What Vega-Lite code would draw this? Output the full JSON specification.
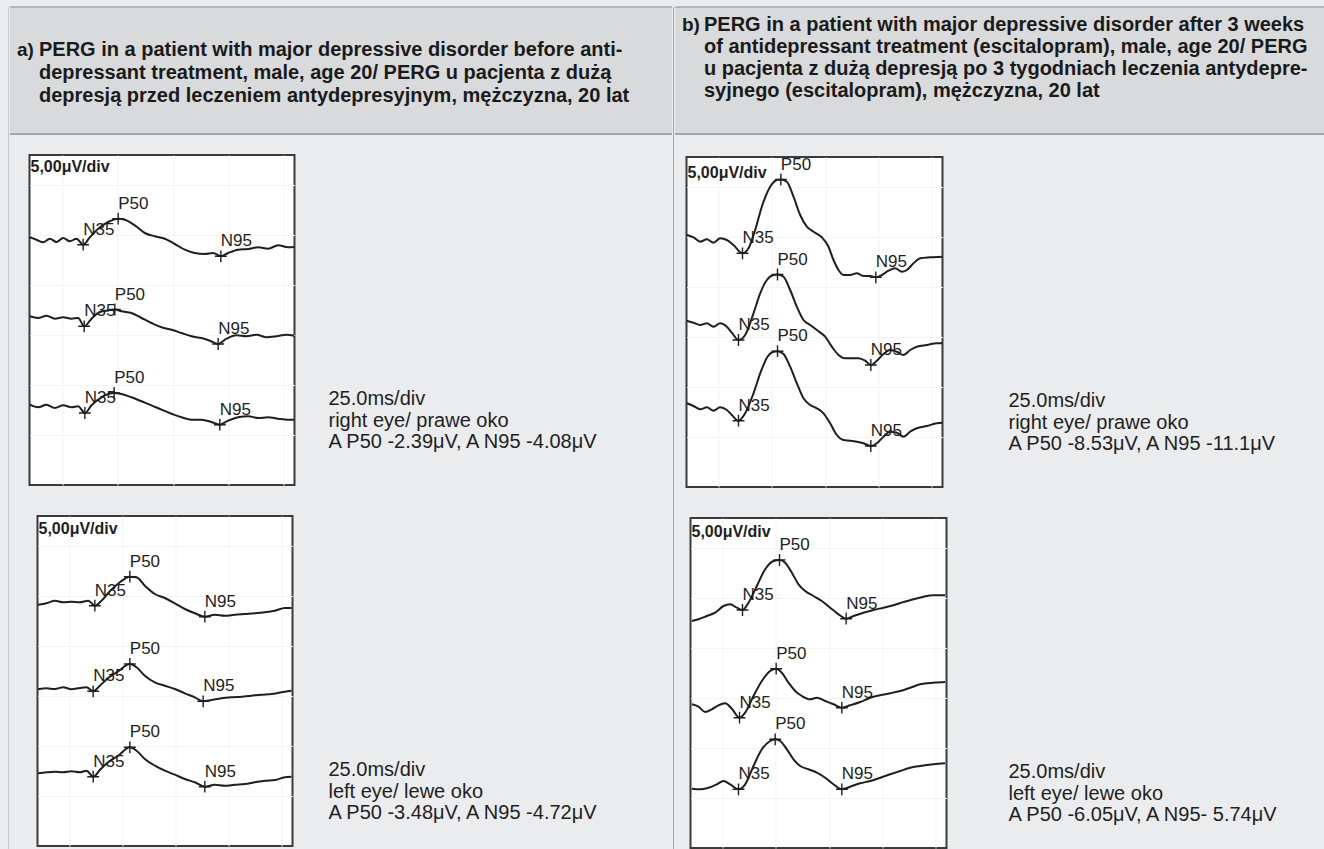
{
"$schema": "https://vega.github.io/schema/vega-lite/v6.json",
"padding": {"left": 8, "top": 6, "right": 0, "bottom": 0},
"background": "#ebecee",
"spacing": 0,
"config": {"view": {"stroke": null}, "font": "Liberation Sans"},
"datasets": {"waves": [
{"p":"aR","tr":1,"t":10.15,"v":24.77},{"p":"aR","tr":1,"t":13.17,"v":24.53},{"p":"aR","tr":1,"t":16.19,"v":24.27},{"p":"aR","tr":1,"t":19.21,"v":24.63},{"p":"aR","tr":1,"t":22.23,"v":24.30},{"p":"aR","tr":1,"t":25.24,"v":24.70},{"p":"aR","tr":1,"t":28.26,"v":24.37},{"p":"aR","tr":1,"t":31.28,"v":24.63},{"p":"aR","tr":1,"t":34.30,"v":24.03,"pk":"N35"},{"p":"aR","tr":1,"t":37.32,"v":24.77},{"p":"aR","tr":1,"t":41.09,"v":25.63},{"p":"aR","tr":1,"t":45.62,"v":26.30},{"p":"aR","tr":1,"t":50.15,"v":26.63,"pk":"P50"},{"p":"aR","tr":1,"t":53.17,"v":26.53},{"p":"aR","tr":1,"t":57.70,"v":25.97},{"p":"aR","tr":1,"t":62.23,"v":25.20},{"p":"aR","tr":1,"t":66.75,"v":24.87},{"p":"aR","tr":1,"t":71.28,"v":24.63},{"p":"aR","tr":1,"t":75.81,"v":24.10},{"p":"aR","tr":1,"t":80.34,"v":23.53},{"p":"aR","tr":1,"t":84.87,"v":23.20},{"p":"aR","tr":1,"t":89.40,"v":23.10},{"p":"aR","tr":1,"t":93.17,"v":23.20},{"p":"aR","tr":1,"t":96.64,"v":22.87,"pk":"N95"},{"p":"aR","tr":1,"t":99.96,"v":23.20},{"p":"aR","tr":1,"t":104.49,"v":23.53},{"p":"aR","tr":1,"t":109.02,"v":23.60},{"p":"aR","tr":1,"t":113.55,"v":23.77},{"p":"aR","tr":1,"t":118.07,"v":23.63},{"p":"aR","tr":1,"t":122.60,"v":23.97},{"p":"aR","tr":1,"t":127.13,"v":23.77},{"p":"aR","tr":1,"t":129.85,"v":23.80},
{"p":"aR","tr":2,"t":10.15,"v":16.87},{"p":"aR","tr":2,"t":13.92,"v":16.70},{"p":"aR","tr":2,"t":17.70,"v":16.93},{"p":"aR","tr":2,"t":21.47,"v":16.63},{"p":"aR","tr":2,"t":25.24,"v":16.77},{"p":"aR","tr":2,"t":29.02,"v":16.63},{"p":"aR","tr":2,"t":32.04,"v":16.70},{"p":"aR","tr":2,"t":34.75,"v":15.87,"pk":"N35"},{"p":"aR","tr":2,"t":38.08,"v":16.63},{"p":"aR","tr":2,"t":41.85,"v":17.30},{"p":"aR","tr":2,"t":45.62,"v":17.45},{"p":"aR","tr":2,"t":48.64,"v":17.55,"pk":"P50"},{"p":"aR","tr":2,"t":51.66,"v":17.37},{"p":"aR","tr":2,"t":56.19,"v":17.20},{"p":"aR","tr":2,"t":60.72,"v":16.70},{"p":"aR","tr":2,"t":65.24,"v":16.20},{"p":"aR","tr":2,"t":69.77,"v":15.77},{"p":"aR","tr":2,"t":74.30,"v":15.53},{"p":"aR","tr":2,"t":78.83,"v":15.20},{"p":"aR","tr":2,"t":83.36,"v":14.87},{"p":"aR","tr":2,"t":87.89,"v":14.70},{"p":"aR","tr":2,"t":91.66,"v":14.43},{"p":"aR","tr":2,"t":95.43,"v":14.10,"pk":"N95"},{"p":"aR","tr":2,"t":99.21,"v":14.63},{"p":"aR","tr":2,"t":103.74,"v":14.97},{"p":"aR","tr":2,"t":108.26,"v":14.87},{"p":"aR","tr":2,"t":112.79,"v":15.03},{"p":"aR","tr":2,"t":117.32,"v":14.77},{"p":"aR","tr":2,"t":121.85,"v":14.87},{"p":"aR","tr":2,"t":126.38,"v":15.03},{"p":"aR","tr":2,"t":129.85,"v":14.93},
{"p":"aR","tr":3,"t":10.15,"v":8.03},{"p":"aR","tr":3,"t":13.92,"v":7.77},{"p":"aR","tr":3,"t":17.70,"v":8.03},{"p":"aR","tr":3,"t":21.47,"v":7.70},{"p":"aR","tr":3,"t":25.24,"v":7.97},{"p":"aR","tr":3,"t":29.02,"v":7.77},{"p":"aR","tr":3,"t":32.04,"v":7.87},{"p":"aR","tr":3,"t":35.06,"v":7.20,"pk":"N35"},{"p":"aR","tr":3,"t":38.08,"v":7.97},{"p":"aR","tr":3,"t":42.60,"v":8.77},{"p":"aR","tr":3,"t":48.34,"v":9.20,"pk":"P50"},{"p":"aR","tr":3,"t":51.66,"v":9.10},{"p":"aR","tr":3,"t":56.19,"v":8.77},{"p":"aR","tr":3,"t":60.72,"v":8.37},{"p":"aR","tr":3,"t":65.24,"v":7.97},{"p":"aR","tr":3,"t":69.77,"v":7.53},{"p":"aR","tr":3,"t":74.30,"v":7.13},{"p":"aR","tr":3,"t":78.83,"v":6.77},{"p":"aR","tr":3,"t":83.36,"v":6.53},{"p":"aR","tr":3,"t":87.89,"v":6.53},{"p":"aR","tr":3,"t":92.41,"v":6.30},{"p":"aR","tr":3,"t":96.19,"v":6.03,"pk":"N95"},{"p":"aR","tr":3,"t":99.96,"v":6.43},{"p":"aR","tr":3,"t":104.49,"v":6.77},{"p":"aR","tr":3,"t":109.02,"v":6.87},{"p":"aR","tr":3,"t":113.55,"v":6.70},{"p":"aR","tr":3,"t":118.07,"v":6.77},{"p":"aR","tr":3,"t":122.60,"v":6.63},{"p":"aR","tr":3,"t":127.13,"v":6.53},{"p":"aR","tr":3,"t":129.85,"v":6.53},
{"p":"bR","tr":1,"t":10.16,"v":25.20},{"p":"bR","tr":1,"t":13.28,"v":24.97},{"p":"bR","tr":1,"t":16.41,"v":24.53},{"p":"bR","tr":1,"t":19.53,"v":24.77},{"p":"bR","tr":1,"t":22.66,"v":24.43},{"p":"bR","tr":1,"t":25.78,"v":24.87},{"p":"bR","tr":1,"t":28.91,"v":24.70},{"p":"bR","tr":1,"t":32.03,"v":24.20},{"p":"bR","tr":1,"t":36.25,"v":23.37,"pk":"N35"},{"p":"bR","tr":1,"t":39.06,"v":23.87},{"p":"bR","tr":1,"t":42.19,"v":25.70},{"p":"bR","tr":1,"t":45.31,"v":28.03},{"p":"bR","tr":1,"t":49.22,"v":30.03},{"p":"bR","tr":1,"t":52.34,"v":30.70},{"p":"bR","tr":1,"t":54.22,"v":30.75,"pk":"P50"},{"p":"bR","tr":1,"t":57.03,"v":30.53},{"p":"bR","tr":1,"t":60.16,"v":29.03},{"p":"bR","tr":1,"t":63.28,"v":27.20},{"p":"bR","tr":1,"t":66.41,"v":26.03},{"p":"bR","tr":1,"t":69.53,"v":25.53},{"p":"bR","tr":1,"t":73.44,"v":24.97},{"p":"bR","tr":1,"t":76.56,"v":24.03},{"p":"bR","tr":1,"t":78.91,"v":22.70},{"p":"bR","tr":1,"t":81.25,"v":21.70},{"p":"bR","tr":1,"t":83.59,"v":21.20},{"p":"bR","tr":1,"t":86.72,"v":21.20},{"p":"bR","tr":1,"t":89.84,"v":21.37},{"p":"bR","tr":1,"t":92.97,"v":21.10},{"p":"bR","tr":1,"t":96.09,"v":21.10},{"p":"bR","tr":1,"t":98.75,"v":20.97,"pk":"N95"},{"p":"bR","tr":1,"t":101.56,"v":21.20},{"p":"bR","tr":1,"t":104.69,"v":21.63},{"p":"bR","tr":1,"t":107.81,"v":21.87},{"p":"bR","tr":1,"t":110.94,"v":21.53},{"p":"bR","tr":1,"t":113.28,"v":21.70},{"p":"bR","tr":1,"t":116.41,"v":22.37},{"p":"bR","tr":1,"t":119.53,"v":22.87},{"p":"bR","tr":1,"t":124.22,"v":22.97},{"p":"bR","tr":1,"t":129.84,"v":23.03},
{"p":"bR","tr":2,"t":10.16,"v":16.63},{"p":"bR","tr":2,"t":13.28,"v":16.43},{"p":"bR","tr":2,"t":16.41,"v":16.20},{"p":"bR","tr":2,"t":19.53,"v":16.37},{"p":"bR","tr":2,"t":22.66,"v":16.03},{"p":"bR","tr":2,"t":25.78,"v":16.37},{"p":"bR","tr":2,"t":28.91,"v":16.03},{"p":"bR","tr":2,"t":31.25,"v":15.43},{"p":"bR","tr":2,"t":34.38,"v":14.70,"pk":"N35"},{"p":"bR","tr":2,"t":37.50,"v":15.20},{"p":"bR","tr":2,"t":41.41,"v":17.37},{"p":"bR","tr":2,"t":44.53,"v":19.37},{"p":"bR","tr":2,"t":47.66,"v":20.70},{"p":"bR","tr":2,"t":50.78,"v":21.20},{"p":"bR","tr":2,"t":52.66,"v":21.25,"pk":"P50"},{"p":"bR","tr":2,"t":55.47,"v":21.03},{"p":"bR","tr":2,"t":58.59,"v":19.70},{"p":"bR","tr":2,"t":61.72,"v":18.03},{"p":"bR","tr":2,"t":64.84,"v":16.70},{"p":"bR","tr":2,"t":67.97,"v":16.20},{"p":"bR","tr":2,"t":71.09,"v":15.70},{"p":"bR","tr":2,"t":75.00,"v":15.03},{"p":"bR","tr":2,"t":78.13,"v":14.03},{"p":"bR","tr":2,"t":81.25,"v":13.20},{"p":"bR","tr":2,"t":84.38,"v":12.87},{"p":"bR","tr":2,"t":87.50,"v":12.87},{"p":"bR","tr":2,"t":90.63,"v":12.87},{"p":"bR","tr":2,"t":93.75,"v":12.63},{"p":"bR","tr":2,"t":96.41,"v":12.20,"pk":"N95"},{"p":"bR","tr":2,"t":99.22,"v":12.63},{"p":"bR","tr":2,"t":102.34,"v":13.30},{"p":"bR","tr":2,"t":105.47,"v":13.70},{"p":"bR","tr":2,"t":108.59,"v":13.53},{"p":"bR","tr":2,"t":111.72,"v":13.20},{"p":"bR","tr":2,"t":114.84,"v":13.70},{"p":"bR","tr":2,"t":117.97,"v":14.03},{"p":"bR","tr":2,"t":122.66,"v":14.20},{"p":"bR","tr":2,"t":127.34,"v":14.37},{"p":"bR","tr":2,"t":129.84,"v":14.37},
{"p":"bR","tr":3,"t":10.16,"v":8.37},{"p":"bR","tr":3,"t":13.28,"v":8.10},{"p":"bR","tr":3,"t":16.41,"v":7.77},{"p":"bR","tr":3,"t":19.53,"v":7.97},{"p":"bR","tr":3,"t":22.66,"v":7.63},{"p":"bR","tr":3,"t":25.78,"v":7.97},{"p":"bR","tr":3,"t":28.91,"v":7.70},{"p":"bR","tr":3,"t":31.25,"v":7.20},{"p":"bR","tr":3,"t":34.38,"v":6.63,"pk":"N35"},{"p":"bR","tr":3,"t":37.50,"v":7.37},{"p":"bR","tr":3,"t":41.41,"v":9.37},{"p":"bR","tr":3,"t":44.84,"v":11.53},{"p":"bR","tr":3,"t":47.97,"v":13.03},{"p":"bR","tr":3,"t":50.78,"v":13.53},{"p":"bR","tr":3,"t":52.66,"v":13.58,"pk":"P50"},{"p":"bR","tr":3,"t":55.47,"v":13.30},{"p":"bR","tr":3,"t":58.59,"v":12.03},{"p":"bR","tr":3,"t":61.72,"v":10.37},{"p":"bR","tr":3,"t":64.84,"v":8.87},{"p":"bR","tr":3,"t":67.97,"v":8.20},{"p":"bR","tr":3,"t":71.09,"v":7.87},{"p":"bR","tr":3,"t":74.22,"v":7.37},{"p":"bR","tr":3,"t":77.34,"v":6.37},{"p":"bR","tr":3,"t":80.47,"v":5.20},{"p":"bR","tr":3,"t":83.59,"v":4.70},{"p":"bR","tr":3,"t":86.72,"v":4.63},{"p":"bR","tr":3,"t":89.84,"v":4.53},{"p":"bR","tr":3,"t":92.97,"v":4.37},{"p":"bR","tr":3,"t":96.41,"v":4.10,"pk":"N95"},{"p":"bR","tr":3,"t":99.22,"v":4.37},{"p":"bR","tr":3,"t":102.34,"v":5.03},{"p":"bR","tr":3,"t":105.47,"v":5.53},{"p":"bR","tr":3,"t":108.59,"v":5.43},{"p":"bR","tr":3,"t":111.72,"v":5.03},{"p":"bR","tr":3,"t":114.84,"v":5.53},{"p":"bR","tr":3,"t":117.97,"v":5.87},{"p":"bR","tr":3,"t":122.66,"v":6.10},{"p":"bR","tr":3,"t":127.34,"v":6.37},{"p":"bR","tr":3,"t":129.84,"v":6.43},
{"p":"aL","tr":1,"t":10.31,"v":24.13},{"p":"aL","tr":1,"t":14.24,"v":24.27},{"p":"aL","tr":1,"t":18.16,"v":24.53},{"p":"aL","tr":1,"t":22.08,"v":24.37},{"p":"aL","tr":1,"t":26.00,"v":24.43},{"p":"aL","tr":1,"t":29.92,"v":24.37},{"p":"aL","tr":1,"t":33.84,"v":24.53},{"p":"aL","tr":1,"t":36.98,"v":24.03,"pk":"N35"},{"p":"aL","tr":1,"t":40.12,"v":24.53},{"p":"aL","tr":1,"t":44.04,"v":25.47},{"p":"aL","tr":1,"t":48.75,"v":26.37},{"p":"aL","tr":1,"t":53.45,"v":26.93,"pk":"P50"},{"p":"aL","tr":1,"t":56.59,"v":26.87},{"p":"aL","tr":1,"t":60.51,"v":26.03},{"p":"aL","tr":1,"t":65.22,"v":25.20},{"p":"aL","tr":1,"t":69.92,"v":24.80},{"p":"aL","tr":1,"t":74.63,"v":24.27},{"p":"aL","tr":1,"t":79.33,"v":23.70},{"p":"aL","tr":1,"t":84.04,"v":23.27},{"p":"aL","tr":1,"t":88.75,"v":22.93,"pk":"N95"},{"p":"aL","tr":1,"t":93.45,"v":23.13},{"p":"aL","tr":1,"t":98.16,"v":23.03},{"p":"aL","tr":1,"t":102.86,"v":23.13},{"p":"aL","tr":1,"t":107.57,"v":23.20},{"p":"aL","tr":1,"t":112.27,"v":23.27},{"p":"aL","tr":1,"t":116.98,"v":23.37},{"p":"aL","tr":1,"t":121.69,"v":23.53},{"p":"aL","tr":1,"t":126.39,"v":23.80},{"p":"aL","tr":1,"t":129.53,"v":23.80},
{"p":"aL","tr":2,"t":10.31,"v":15.67},{"p":"aL","tr":2,"t":14.24,"v":15.77},{"p":"aL","tr":2,"t":18.16,"v":15.70},{"p":"aL","tr":2,"t":22.08,"v":15.87},{"p":"aL","tr":2,"t":26.00,"v":15.67},{"p":"aL","tr":2,"t":29.92,"v":15.80},{"p":"aL","tr":2,"t":33.06,"v":15.87},{"p":"aL","tr":2,"t":36.20,"v":15.47,"pk":"N35"},{"p":"aL","tr":2,"t":39.33,"v":16.03},{"p":"aL","tr":2,"t":43.25,"v":16.80},{"p":"aL","tr":2,"t":47.96,"v":17.47},{"p":"aL","tr":2,"t":53.45,"v":18.20,"pk":"P50"},{"p":"aL","tr":2,"t":56.59,"v":17.87},{"p":"aL","tr":2,"t":60.51,"v":17.03},{"p":"aL","tr":2,"t":65.22,"v":16.37},{"p":"aL","tr":2,"t":69.92,"v":16.03},{"p":"aL","tr":2,"t":74.63,"v":15.70},{"p":"aL","tr":2,"t":79.33,"v":15.27},{"p":"aL","tr":2,"t":84.04,"v":14.87},{"p":"aL","tr":2,"t":87.96,"v":14.47,"pk":"N95"},{"p":"aL","tr":2,"t":91.88,"v":14.60},{"p":"aL","tr":2,"t":96.59,"v":14.77},{"p":"aL","tr":2,"t":101.29,"v":14.87},{"p":"aL","tr":2,"t":106.00,"v":14.93},{"p":"aL","tr":2,"t":110.71,"v":15.03},{"p":"aL","tr":2,"t":115.41,"v":15.13},{"p":"aL","tr":2,"t":120.12,"v":15.20},{"p":"aL","tr":2,"t":124.82,"v":15.37},{"p":"aL","tr":2,"t":129.53,"v":15.53},
{"p":"aL","tr":3,"t":10.31,"v":7.27},{"p":"aL","tr":3,"t":14.24,"v":7.37},{"p":"aL","tr":3,"t":18.16,"v":7.43},{"p":"aL","tr":3,"t":22.08,"v":7.37},{"p":"aL","tr":3,"t":26.00,"v":7.47},{"p":"aL","tr":3,"t":29.92,"v":7.37},{"p":"aL","tr":3,"t":33.06,"v":7.53},{"p":"aL","tr":3,"t":36.20,"v":6.93,"pk":"N35"},{"p":"aL","tr":3,"t":39.33,"v":7.60},{"p":"aL","tr":3,"t":43.25,"v":8.37},{"p":"aL","tr":3,"t":47.96,"v":9.03},{"p":"aL","tr":3,"t":53.45,"v":9.87,"pk":"P50"},{"p":"aL","tr":3,"t":56.59,"v":9.53},{"p":"aL","tr":3,"t":60.51,"v":8.70},{"p":"aL","tr":3,"t":65.22,"v":8.03},{"p":"aL","tr":3,"t":69.92,"v":7.53},{"p":"aL","tr":3,"t":74.63,"v":7.13},{"p":"aL","tr":3,"t":79.33,"v":6.70},{"p":"aL","tr":3,"t":84.04,"v":6.37},{"p":"aL","tr":3,"t":88.75,"v":5.93,"pk":"N95"},{"p":"aL","tr":3,"t":93.45,"v":6.13},{"p":"aL","tr":3,"t":98.16,"v":6.03},{"p":"aL","tr":3,"t":102.86,"v":6.13},{"p":"aL","tr":3,"t":107.57,"v":6.20},{"p":"aL","tr":3,"t":112.27,"v":6.37},{"p":"aL","tr":3,"t":116.98,"v":6.53},{"p":"aL","tr":3,"t":121.69,"v":6.60},{"p":"aL","tr":3,"t":126.39,"v":6.87},{"p":"aL","tr":3,"t":129.53,"v":6.93},
{"p":"bL","tr":1,"t":10.63,"v":22.70},{"p":"bL","tr":1,"t":13.75,"v":22.87},{"p":"bL","tr":1,"t":17.66,"v":23.20},{"p":"bL","tr":1,"t":21.56,"v":23.53},{"p":"bL","tr":1,"t":25.47,"v":24.20},{"p":"bL","tr":1,"t":28.59,"v":24.37},{"p":"bL","tr":1,"t":31.72,"v":24.03},{"p":"bL","tr":1,"t":34.38,"v":23.80,"pk":"N35"},{"p":"bL","tr":1,"t":37.19,"v":24.53},{"p":"bL","tr":1,"t":41.09,"v":26.20},{"p":"bL","tr":1,"t":45.00,"v":27.87},{"p":"bL","tr":1,"t":48.91,"v":28.70},{"p":"bL","tr":1,"t":51.72,"v":28.80,"pk":"P50"},{"p":"bL","tr":1,"t":54.38,"v":28.53},{"p":"bL","tr":1,"t":57.50,"v":27.53},{"p":"bL","tr":1,"t":60.63,"v":26.37},{"p":"bL","tr":1,"t":63.75,"v":25.70},{"p":"bL","tr":1,"t":67.66,"v":25.20},{"p":"bL","tr":1,"t":71.56,"v":24.70},{"p":"bL","tr":1,"t":75.47,"v":24.03},{"p":"bL","tr":1,"t":79.38,"v":23.37},{"p":"bL","tr":1,"t":82.97,"v":22.93,"pk":"N95"},{"p":"bL","tr":1,"t":86.41,"v":23.20},{"p":"bL","tr":1,"t":91.09,"v":23.53},{"p":"bL","tr":1,"t":95.78,"v":23.80},{"p":"bL","tr":1,"t":100.47,"v":24.03},{"p":"bL","tr":1,"t":105.16,"v":24.27},{"p":"bL","tr":1,"t":109.84,"v":24.60},{"p":"bL","tr":1,"t":114.53,"v":24.87},{"p":"bL","tr":1,"t":119.22,"v":25.13},{"p":"bL","tr":1,"t":123.91,"v":25.27},{"p":"bL","tr":1,"t":129.38,"v":25.27},
{"p":"bL","tr":2,"t":10.63,"v":14.37},{"p":"bL","tr":2,"t":13.75,"v":14.13},{"p":"bL","tr":2,"t":16.88,"v":13.60},{"p":"bL","tr":2,"t":20.00,"v":13.87},{"p":"bL","tr":2,"t":23.13,"v":14.27},{"p":"bL","tr":2,"t":26.25,"v":14.47},{"p":"bL","tr":2,"t":29.38,"v":13.93},{"p":"bL","tr":2,"t":32.97,"v":13.03,"pk":"N35"},{"p":"bL","tr":2,"t":35.63,"v":13.53},{"p":"bL","tr":2,"t":39.53,"v":15.20},{"p":"bL","tr":2,"t":43.44,"v":16.70},{"p":"bL","tr":2,"t":47.34,"v":17.70},{"p":"bL","tr":2,"t":50.16,"v":17.93,"pk":"P50"},{"p":"bL","tr":2,"t":52.81,"v":17.53},{"p":"bL","tr":2,"t":55.94,"v":16.53},{"p":"bL","tr":2,"t":59.06,"v":15.70},{"p":"bL","tr":2,"t":62.19,"v":15.20},{"p":"bL","tr":2,"t":66.09,"v":14.87},{"p":"bL","tr":2,"t":69.22,"v":15.03},{"p":"bL","tr":2,"t":73.13,"v":14.70},{"p":"bL","tr":2,"t":77.03,"v":14.37},{"p":"bL","tr":2,"t":80.94,"v":14.03,"pk":"N95"},{"p":"bL","tr":2,"t":84.84,"v":14.27},{"p":"bL","tr":2,"t":89.53,"v":14.60},{"p":"bL","tr":2,"t":94.22,"v":15.03},{"p":"bL","tr":2,"t":98.91,"v":15.27},{"p":"bL","tr":2,"t":103.59,"v":15.47},{"p":"bL","tr":2,"t":108.28,"v":15.70},{"p":"bL","tr":2,"t":112.97,"v":16.03},{"p":"bL","tr":2,"t":117.66,"v":16.37},{"p":"bL","tr":2,"t":123.91,"v":16.53},{"p":"bL","tr":2,"t":129.38,"v":16.60},
{"p":"bL","tr":3,"t":10.63,"v":5.93},{"p":"bL","tr":3,"t":14.53,"v":5.87},{"p":"bL","tr":3,"t":18.44,"v":6.03},{"p":"bL","tr":3,"t":22.34,"v":6.37},{"p":"bL","tr":3,"t":25.47,"v":6.70},{"p":"bL","tr":3,"t":28.59,"v":6.37},{"p":"bL","tr":3,"t":32.50,"v":5.87,"pk":"N35"},{"p":"bL","tr":3,"t":35.63,"v":6.37},{"p":"bL","tr":3,"t":39.53,"v":8.20},{"p":"bL","tr":3,"t":43.44,"v":9.87},{"p":"bL","tr":3,"t":47.34,"v":10.70},{"p":"bL","tr":3,"t":49.69,"v":10.87,"pk":"P50"},{"p":"bL","tr":3,"t":52.03,"v":10.70},{"p":"bL","tr":3,"t":55.16,"v":9.87},{"p":"bL","tr":3,"t":58.28,"v":8.87},{"p":"bL","tr":3,"t":61.41,"v":8.20},{"p":"bL","tr":3,"t":65.31,"v":7.87},{"p":"bL","tr":3,"t":69.22,"v":7.53},{"p":"bL","tr":3,"t":73.13,"v":7.03},{"p":"bL","tr":3,"t":77.03,"v":6.37},{"p":"bL","tr":3,"t":80.94,"v":5.87,"pk":"N95"},{"p":"bL","tr":3,"t":84.84,"v":6.13},{"p":"bL","tr":3,"t":89.53,"v":6.47},{"p":"bL","tr":3,"t":94.22,"v":6.70},{"p":"bL","tr":3,"t":98.91,"v":7.03},{"p":"bL","tr":3,"t":103.59,"v":7.37},{"p":"bL","tr":3,"t":108.28,"v":7.70},{"p":"bL","tr":3,"t":112.97,"v":8.03},{"p":"bL","tr":3,"t":117.66,"v":8.20},{"p":"bL","tr":3,"t":123.91,"v":8.37},{"p":"bL","tr":3,"t":129.38,"v":8.47}
]},
"hconcat": [
{"width": 1, "height": 843, "view": {"fill": "#c8c9cb", "stroke": null}, "data": {"values": []}, "mark": "point"},
{"vconcat": [
  {"width": 662, "height": 127, "view": {"fill": "#d9dadc", "stroke": null},
   "data": {"values": [{"k": "a)", "txt": "PERG in a patient with major depressive disorder before anti-\ndepressant treatment, male, age 20/ PERG u pacjenta z dużą\ndepresją przed leczeniem antydepresyjnym, mężczyzna, 20 lat"}]},
   "layer": [
    {"mark": {"type": "rule", "color": "#a6a7a9", "strokeWidth": 1.5}, "encoding": {"y": {"value": 0}}},
    {"mark": {"type": "rule", "color": "#a6a7a9", "strokeWidth": 2}, "encoding": {"y": {"value": "height"}}},
    {"mark": {"type": "text", "align": "left", "baseline": "middle", "font": "Liberation Sans", "fontWeight": "bold", "fontSize": 19, "color": "#1a1a1a"}, "encoding": {"text": {"field": "k", "type": "nominal"}, "x": {"value": 7}, "y": {"value": 43}}},
    {"mark": {"type": "text", "align": "left", "baseline": "middle", "font": "Liberation Sans", "fontWeight": "bold", "fontSize": 20, "lineHeight": 23, "lineBreak": "\n", "color": "#1a1a1a"}, "encoding": {"text": {"field": "txt", "type": "nominal"}, "x": {"value": 29}, "y": {"value": 43}}}
   ]},
  {"hconcat": [
    {"width": 265, "height": 330, "view": {"fill": "#ffffff", "stroke": "#3a3a3a", "strokeWidth": 2},
     "data": {"name": "waves"},
     "layer": [
      {"transform": [{"filter": "datum.p == 'aR'"}], "mark": {"type": "line", "color": "#1e1e1e", "strokeWidth": 2, "interpolate": "monotone", "clip": true},
       "encoding": {"x": {"field": "t", "type": "quantitative", "scale": {"domain": [10, 130], "nice": false, "zero": false}, "axis": {"title": null, "labels": false, "ticks": false, "domain": false, "grid": true, "gridColor": "#f3f3f3", "values": [25, 50, 75, 100, 125]}},
                    "y": {"field": "v", "type": "quantitative", "scale": {"domain": [0, 33], "nice": false, "zero": false}, "axis": {"title": null, "labels": false, "ticks": false, "domain": false, "grid": true, "gridColor": "#f3f3f3", "values": [5, 10, 15, 20, 25, 30]}},
                    "detail": {"field": "tr", "type": "nominal"}}},
      {"transform": [{"filter": "datum.p == 'aR' && isValid(datum.pk)"}], "mark": {"type": "point", "shape": "M-1,0L1,0M0,-1L0,1", "filled": false, "size": 140, "color": "#1e1e1e", "strokeWidth": 1.4, "opacity": 1},
       "encoding": {"x": {"field": "t", "type": "quantitative"}, "y": {"field": "v", "type": "quantitative"}}},
      {"transform": [{"filter": "datum.p == 'aR' && isValid(datum.pk)"}], "mark": {"type": "text", "align": "left", "baseline": "middle", "dx": 0, "dy": -15, "fontSize": 17, "font": "Liberation Sans", "color": "#1e1e1e"},
       "encoding": {"x": {"field": "t", "type": "quantitative"}, "y": {"field": "v", "type": "quantitative"}, "text": {"field": "pk", "type": "nominal"}}},
      {"data": {"values": [{"lab": "5,00μV/div"}]}, "mark": {"type": "text", "align": "left", "baseline": "middle", "fontSize": 16, "fontWeight": "bold", "font": "Liberation Sans", "color": "#1e1e1e", "x": 1, "y": 12}, "encoding": {"text": {"field": "lab", "type": "nominal"}}}
     ]},
    {"width": 325, "height": 341, "data": {"values": [{"txt": "25.0ms/div\nright eye/ prawe oko\nA P50 -2.39μV, A N95 -4.08μV"}]},
     "mark": {"type": "text", "align": "left", "baseline": "middle", "font": "Liberation Sans", "fontSize": 20, "lineHeight": 21.5, "lineBreak": "\n", "color": "#1f1f1f"},
     "encoding": {"text": {"field": "txt", "type": "nominal"}, "x": {"value": 0}, "y": {"value": 244}}}
  ], "spacing": 34, "bounds": "flush"},
  {"hconcat": [
    {"width": 255, "height": 330, "view": {"fill": "#ffffff", "stroke": "#3a3a3a", "strokeWidth": 2},
     "data": {"name": "waves"},
     "layer": [
      {"transform": [{"filter": "datum.p == 'aL'"}], "mark": {"type": "line", "color": "#1e1e1e", "strokeWidth": 2, "interpolate": "monotone", "clip": true},
       "encoding": {"x": {"field": "t", "type": "quantitative", "scale": {"domain": [10, 130], "nice": false, "zero": false}, "axis": {"title": null, "labels": false, "ticks": false, "domain": false, "grid": true, "gridColor": "#f3f3f3", "values": [25, 50, 75, 100, 125]}},
                    "y": {"field": "v", "type": "quantitative", "scale": {"domain": [0, 33], "nice": false, "zero": false}, "axis": {"title": null, "labels": false, "ticks": false, "domain": false, "grid": true, "gridColor": "#f3f3f3", "values": [5, 10, 15, 20, 25, 30]}},
                    "detail": {"field": "tr", "type": "nominal"}}},
      {"transform": [{"filter": "datum.p == 'aL' && isValid(datum.pk)"}], "mark": {"type": "point", "shape": "M-1,0L1,0M0,-1L0,1", "filled": false, "size": 140, "color": "#1e1e1e", "strokeWidth": 1.4, "opacity": 1},
       "encoding": {"x": {"field": "t", "type": "quantitative"}, "y": {"field": "v", "type": "quantitative"}}},
      {"transform": [{"filter": "datum.p == 'aL' && isValid(datum.pk)"}], "mark": {"type": "text", "align": "left", "baseline": "middle", "dx": 0, "dy": -15, "fontSize": 17, "font": "Liberation Sans", "color": "#1e1e1e"},
       "encoding": {"x": {"field": "t", "type": "quantitative"}, "y": {"field": "v", "type": "quantitative"}, "text": {"field": "pk", "type": "nominal"}}},
      {"data": {"values": [{"lab": "5,00μV/div"}]}, "mark": {"type": "text", "align": "left", "baseline": "middle", "fontSize": 16, "fontWeight": "bold", "font": "Liberation Sans", "color": "#1e1e1e", "x": 1, "y": 13}, "encoding": {"text": {"field": "lab", "type": "nominal"}}}
     ]},
    {"width": 317, "height": 330, "data": {"values": [{"txt": "25.0ms/div\nleft eye/ lewe oko\nA P50 -3.48μV, A N95 -4.72μV"}]},
     "mark": {"type": "text", "align": "left", "baseline": "middle", "font": "Liberation Sans", "fontSize": 20, "lineHeight": 21.5, "lineBreak": "\n", "color": "#1f1f1f"},
     "encoding": {"text": {"field": "txt", "type": "nominal"}, "x": {"value": 0}, "y": {"value": 254}}}
  ], "spacing": 36, "bounds": "flush"}
 ], "spacing": 19, "center": true},
{"width": 1, "height": 843, "view": {"fill": "#a3a4a6", "stroke": null}, "data": {"values": []}, "mark": "point"},
{"vconcat": [
  {"width": 652, "height": 127, "view": {"fill": "#d9dadc", "stroke": null},
   "data": {"values": [{"k": "b)", "txt": "PERG in a patient with major depressive disorder after 3 weeks\nof antidepressant treatment (escitalopram), male, age 20/ PERG\nu pacjenta z dużą depresją po 3 tygodniach leczenia antydepre-\nsyjnego (escitalopram), mężczyzna, 20 lat"}]},
   "layer": [
    {"mark": {"type": "rule", "color": "#a6a7a9", "strokeWidth": 1.5}, "encoding": {"y": {"value": 0}}},
    {"mark": {"type": "rule", "color": "#a6a7a9", "strokeWidth": 2}, "encoding": {"y": {"value": "height"}}},
    {"mark": {"type": "text", "align": "left", "baseline": "middle", "font": "Liberation Sans", "fontWeight": "bold", "fontSize": 19, "color": "#1a1a1a"}, "encoding": {"text": {"field": "k", "type": "nominal"}, "x": {"value": 7}, "y": {"value": 18}}},
    {"mark": {"type": "text", "align": "left", "baseline": "middle", "font": "Liberation Sans", "fontWeight": "bold", "fontSize": 20, "lineHeight": 22, "lineBreak": "\n", "color": "#1a1a1a"}, "encoding": {"text": {"field": "txt", "type": "nominal"}, "x": {"value": 29}, "y": {"value": 18}}}
   ]},
  {"hconcat": [
    {"width": 256, "height": 330, "view": {"fill": "#ffffff", "stroke": "#3a3a3a", "strokeWidth": 2},
     "data": {"name": "waves"},
     "layer": [
      {"transform": [{"filter": "datum.p == 'bR'"}], "mark": {"type": "line", "color": "#1e1e1e", "strokeWidth": 2, "interpolate": "monotone", "clip": true},
       "encoding": {"x": {"field": "t", "type": "quantitative", "scale": {"domain": [10, 130], "nice": false, "zero": false}, "axis": {"title": null, "labels": false, "ticks": false, "domain": false, "grid": true, "gridColor": "#f3f3f3", "values": [25, 50, 75, 100, 125]}},
                    "y": {"field": "v", "type": "quantitative", "scale": {"domain": [0, 33], "nice": false, "zero": false}, "axis": {"title": null, "labels": false, "ticks": false, "domain": false, "grid": true, "gridColor": "#f3f3f3", "values": [5, 10, 15, 20, 25, 30]}},
                    "detail": {"field": "tr", "type": "nominal"}}},
      {"transform": [{"filter": "datum.p == 'bR' && isValid(datum.pk)"}], "mark": {"type": "point", "shape": "M-1,0L1,0M0,-1L0,1", "filled": false, "size": 140, "color": "#1e1e1e", "strokeWidth": 1.4, "opacity": 1},
       "encoding": {"x": {"field": "t", "type": "quantitative"}, "y": {"field": "v", "type": "quantitative"}}},
      {"transform": [{"filter": "datum.p == 'bR' && isValid(datum.pk)"}], "mark": {"type": "text", "align": "left", "baseline": "middle", "dx": 0, "dy": -15, "fontSize": 17, "font": "Liberation Sans", "color": "#1e1e1e"},
       "encoding": {"x": {"field": "t", "type": "quantitative"}, "y": {"field": "v", "type": "quantitative"}, "text": {"field": "pk", "type": "nominal"}}},
      {"data": {"values": [{"lab": "5,00μV/div"}]}, "mark": {"type": "text", "align": "left", "baseline": "middle", "fontSize": 16, "fontWeight": "bold", "font": "Liberation Sans", "color": "#1e1e1e", "x": 1, "y": 16}, "encoding": {"text": {"field": "lab", "type": "nominal"}}}
     ]},
    {"width": 308, "height": 341, "data": {"values": [{"txt": "25.0ms/div\nright eye/ prawe oko\nA P50 -8.53μV, A N95 -11.1μV"}]},
     "mark": {"type": "text", "align": "left", "baseline": "middle", "font": "Liberation Sans", "fontSize": 20, "lineHeight": 21.5, "lineBreak": "\n", "color": "#1f1f1f"},
     "encoding": {"text": {"field": "txt", "type": "nominal"}, "x": {"value": 0}, "y": {"value": 244}}}
  ], "spacing": 66, "bounds": "flush"},
  {"hconcat": [
    {"width": 256, "height": 330, "view": {"fill": "#ffffff", "stroke": "#3a3a3a", "strokeWidth": 2},
     "data": {"name": "waves"},
     "layer": [
      {"transform": [{"filter": "datum.p == 'bL'"}], "mark": {"type": "line", "color": "#1e1e1e", "strokeWidth": 2, "interpolate": "monotone", "clip": true},
       "encoding": {"x": {"field": "t", "type": "quantitative", "scale": {"domain": [10, 130], "nice": false, "zero": false}, "axis": {"title": null, "labels": false, "ticks": false, "domain": false, "grid": true, "gridColor": "#f3f3f3", "values": [25, 50, 75, 100, 125]}},
                    "y": {"field": "v", "type": "quantitative", "scale": {"domain": [0, 33], "nice": false, "zero": false}, "axis": {"title": null, "labels": false, "ticks": false, "domain": false, "grid": true, "gridColor": "#f3f3f3", "values": [5, 10, 15, 20, 25, 30]}},
                    "detail": {"field": "tr", "type": "nominal"}}},
      {"transform": [{"filter": "datum.p == 'bL' && isValid(datum.pk)"}], "mark": {"type": "point", "shape": "M-1,0L1,0M0,-1L0,1", "filled": false, "size": 140, "color": "#1e1e1e", "strokeWidth": 1.4, "opacity": 1},
       "encoding": {"x": {"field": "t", "type": "quantitative"}, "y": {"field": "v", "type": "quantitative"}}},
      {"transform": [{"filter": "datum.p == 'bL' && isValid(datum.pk)"}], "mark": {"type": "text", "align": "left", "baseline": "middle", "dx": 0, "dy": -15, "fontSize": 17, "font": "Liberation Sans", "color": "#1e1e1e"},
       "encoding": {"x": {"field": "t", "type": "quantitative"}, "y": {"field": "v", "type": "quantitative"}, "text": {"field": "pk", "type": "nominal"}}},
      {"data": {"values": [{"lab": "5,00μV/div"}]}, "mark": {"type": "text", "align": "left", "baseline": "middle", "fontSize": 16, "fontWeight": "bold", "font": "Liberation Sans", "color": "#1e1e1e", "x": 1, "y": 14}, "encoding": {"text": {"field": "lab", "type": "nominal"}}}
     ]},
    {"width": 304, "height": 330, "data": {"values": [{"txt": "25.0ms/div\nleft eye/ lewe oko\nA P50 -6.05μV, A N95- 5.74μV"}]},
     "mark": {"type": "text", "align": "left", "baseline": "middle", "font": "Liberation Sans", "fontSize": 20, "lineHeight": 21.5, "lineBreak": "\n", "color": "#1f1f1f"},
     "encoding": {"text": {"field": "txt", "type": "nominal"}, "x": {"value": 0}, "y": {"value": 254}}}
  ], "spacing": 62, "bounds": "flush"}
 ], "spacing": 19, "center": true}
]
}
